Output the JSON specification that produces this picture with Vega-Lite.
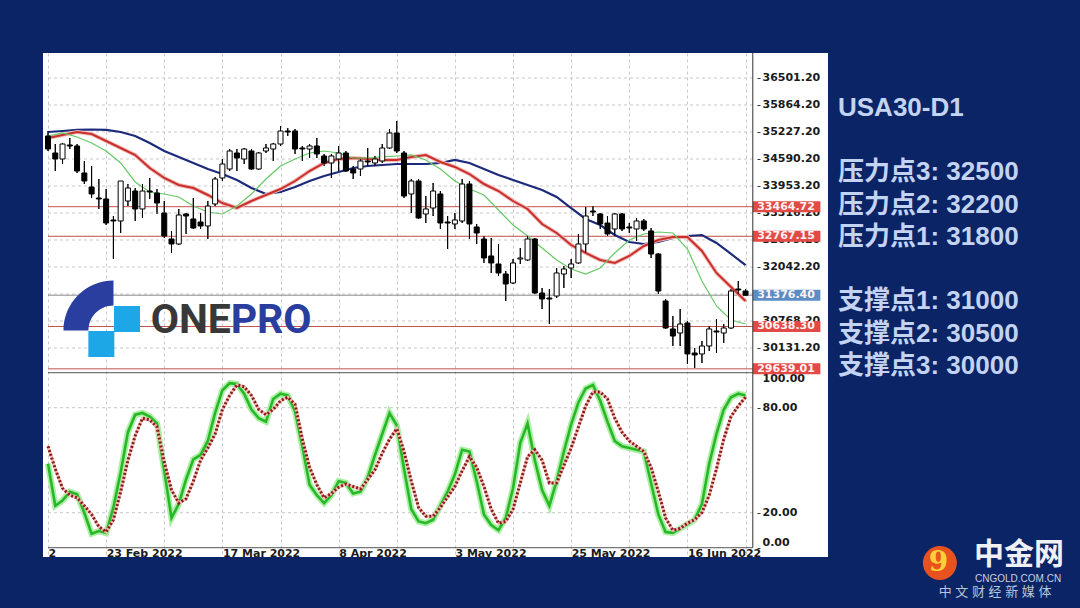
{
"$schema": "https://vega.github.io/schema/vega-lite/v6.json",
"background": "#0b2465",
"padding": {"left": 43, "top": 52, "right": 0, "bottom": 0},
"spacing": 10,
"bounds": "flush",
"config": {
  "view": {"stroke": null},
  "axis": {"labelFont": "DejaVu Sans", "labelFontWeight": "bold", "labelFontSize": 11, "labelColor": "#1a1a1a", "domain": false, "tickColor": "#333333", "tickSize": 3, "labelPadding": 2, "labelFlush": false, "labelOverlap": false, "labelBound": false}
},
"datasets": {
  "bars": [
    {"i":0,"o":35133,"h":35251,"l":34779,"c":34826},{"i":1,"o":34732,"h":34944,"l":34307,"c":34590},{"i":2,"o":34590,"h":34968,"l":34472,"c":34944},{"i":3,"o":34921,"h":35086,"l":34826,"c":34897},{"i":4,"o":34897,"h":34944,"l":34260,"c":34307},
    {"i":5,"o":34260,"h":34543,"l":34000,"c":34071},{"i":6,"o":33930,"h":34425,"l":33670,"c":33765},{"i":7,"o":33670,"h":34118,"l":33411,"c":33647},{"i":8,"o":33647,"h":33882,"l":33033,"c":33080},{"i":9,"o":33151,"h":33245,"l":32231,"c":33128},
    {"i":10,"o":33128,"h":34071,"l":32844,"c":34071},{"i":11,"o":33599,"h":34000,"l":33481,"c":33906},{"i":12,"o":33835,"h":33906,"l":33128,"c":33411},{"i":13,"o":33411,"h":34000,"l":33198,"c":33835},{"i":14,"o":33835,"h":34142,"l":33647,"c":33812},
    {"i":15,"o":33788,"h":33882,"l":33293,"c":33552},{"i":16,"o":33316,"h":33599,"l":32726,"c":32774},{"i":17,"o":32703,"h":32892,"l":32373,"c":32585},{"i":18,"o":32585,"h":33411,"l":32561,"c":33269},{"i":19,"o":33293,"h":33316,"l":32821,"c":33245},
    {"i":20,"o":33175,"h":33670,"l":32939,"c":32962},{"i":21,"o":33104,"h":33316,"l":32939,"c":33010},{"i":22,"o":33010,"h":33599,"l":32703,"c":33481},{"i":23,"o":33529,"h":34166,"l":33481,"c":34118},{"i":24,"o":34142,"h":34590,"l":34071,"c":34472},
    {"i":25,"o":34354,"h":34826,"l":34307,"c":34779},{"i":26,"o":34732,"h":34826,"l":34307,"c":34614},{"i":27,"o":34590,"h":34850,"l":34472,"c":34826},{"i":28,"o":34779,"h":34826,"l":34331,"c":34354},{"i":29,"o":34354,"h":34755,"l":34331,"c":34732},
    {"i":30,"o":34779,"h":34944,"l":34732,"c":34850},{"i":31,"o":34826,"h":34968,"l":34543,"c":34944},{"i":32,"o":34944,"h":35369,"l":34897,"c":35251},{"i":33,"o":35251,"h":35322,"l":35133,"c":35227},{"i":34,"o":35251,"h":35298,"l":34708,"c":34826},
    {"i":35,"o":34850,"h":34897,"l":34543,"c":34826},{"i":36,"o":34826,"h":34944,"l":34614,"c":34897},{"i":37,"o":34897,"h":35086,"l":34614,"c":34708},{"i":38,"o":34661,"h":34708,"l":34425,"c":34496},{"i":39,"o":34496,"h":34708,"l":34142,"c":34661},
    {"i":40,"o":34590,"h":34897,"l":34307,"c":34732},{"i":41,"o":34732,"h":34779,"l":34284,"c":34307},{"i":42,"o":34354,"h":34425,"l":34118,"c":34260},{"i":43,"o":34354,"h":34590,"l":34189,"c":34543},{"i":44,"o":34543,"h":34850,"l":34425,"c":34520},
    {"i":45,"o":34496,"h":34661,"l":34425,"c":34590},{"i":46,"o":34543,"h":34944,"l":34496,"c":34850},{"i":47,"o":34850,"h":35298,"l":34826,"c":35204},{"i":48,"o":35204,"h":35487,"l":34732,"c":34779},{"i":49,"o":34732,"h":34779,"l":33670,"c":33717},
    {"i":50,"o":33765,"h":34118,"l":33316,"c":34071},{"i":51,"o":34071,"h":34118,"l":33175,"c":33198},{"i":52,"o":33293,"h":33717,"l":33080,"c":33411},{"i":53,"o":33434,"h":34024,"l":33245,"c":33835},{"i":54,"o":33765,"h":33835,"l":32939,"c":33080},
    {"i":55,"o":33104,"h":33245,"l":32467,"c":33080},{"i":56,"o":33057,"h":33316,"l":32939,"c":33151},{"i":57,"o":33128,"h":34118,"l":33080,"c":34000},{"i":58,"o":34000,"h":34071,"l":32703,"c":33057},{"i":59,"o":32986,"h":33057,"l":32585,"c":32844},
    {"i":60,"o":32703,"h":32774,"l":32137,"c":32255},{"i":61,"o":32302,"h":32726,"l":31901,"c":32137},{"i":62,"o":32113,"h":32585,"l":31830,"c":31901},{"i":63,"o":31877,"h":31948,"l":31240,"c":31641},{"i":64,"o":31665,"h":32231,"l":31641,"c":32137},
    {"i":65,"o":32231,"h":32490,"l":32113,"c":32255},{"i":66,"o":32207,"h":32774,"l":32184,"c":32703},{"i":67,"o":32703,"h":32726,"l":31405,"c":31429},{"i":68,"o":31429,"h":31547,"l":31051,"c":31287},{"i":69,"o":31311,"h":31523,"l":30697,"c":31287},
    {"i":70,"o":31358,"h":32019,"l":31311,"c":31901},{"i":71,"o":31877,"h":32066,"l":31547,"c":31995},{"i":72,"o":32019,"h":32231,"l":31783,"c":32113},{"i":73,"o":32137,"h":32821,"l":32113,"c":32585},{"i":74,"o":32585,"h":33458,"l":32373,"c":33245},
    {"i":75,"o":33363,"h":33481,"l":33245,"c":33340},{"i":76,"o":33293,"h":33316,"l":32939,"c":33057},{"i":77,"o":33080,"h":33245,"l":32774,"c":32821},{"i":78,"o":32939,"h":33316,"l":32774,"c":33293},{"i":79,"o":33293,"h":33316,"l":32892,"c":32939},
    {"i":80,"o":32986,"h":33080,"l":32844,"c":32962},{"i":81,"o":32939,"h":33198,"l":32656,"c":33128},{"i":82,"o":33128,"h":33175,"l":32892,"c":32939},{"i":83,"o":32892,"h":32962,"l":32255,"c":32349},{"i":84,"o":32349,"h":32373,"l":31405,"c":31476},
    {"i":85,"o":31240,"h":31287,"l":30580,"c":30603},{"i":86,"o":30580,"h":30886,"l":30178,"c":30414},{"i":87,"o":30485,"h":31051,"l":30178,"c":30697},{"i":88,"o":30721,"h":30768,"l":29754,"c":29990},{"i":89,"o":30013,"h":30131,"l":29659,"c":29966},
    {"i":90,"o":29990,"h":30296,"l":29777,"c":30178},{"i":91,"o":30178,"h":30650,"l":30060,"c":30580},{"i":92,"o":30532,"h":30815,"l":30013,"c":30509},{"i":93,"o":30485,"h":30697,"l":30249,"c":30603},{"i":94,"o":30603,"h":31523,"l":30580,"c":31476},
    {"i":95,"o":31523,"h":31712,"l":31405,"c":31500},{"i":96,"o":31476,"h":31523,"l":31358,"c":31376.4}
  ],
  "ma": [
    {"i":0,"b":35227,"r":35086,"g":35133},{"i":2,"b":35251,"r":35157,"g":35204},{"i":4,"b":35275,"r":35227,"g":35109},{"i":6,"b":35286,"r":35180,"g":34968},{"i":8,"b":35275,"r":35015,"g":34779},
    {"i":10,"b":35227,"r":34850,"g":34496},{"i":12,"b":35133,"r":34685,"g":34048},{"i":14,"b":34968,"r":34378,"g":33812},{"i":16,"b":34779,"r":34142,"g":33765},{"i":18,"b":34638,"r":33977,"g":33694},
    {"i":20,"b":34496,"r":33906,"g":33481},{"i":22,"b":34354,"r":33741,"g":33340},{"i":24,"b":34236,"r":33552,"g":33293},{"i":26,"b":34095,"r":33434,"g":33481},{"i":28,"b":33906,"r":33599,"g":33765},
    {"i":30,"b":33765,"r":33741,"g":34118},{"i":32,"b":33812,"r":33882,"g":34425},{"i":34,"b":33930,"r":34071,"g":34590},{"i":36,"b":34071,"r":34307,"g":34732},{"i":38,"b":34189,"r":34496,"g":34779},
    {"i":40,"b":34284,"r":34590,"g":34732},{"i":42,"b":34378,"r":34614,"g":34614},{"i":44,"b":34425,"r":34590,"g":34614},{"i":46,"b":34449,"r":34567,"g":34638},{"i":48,"b":34472,"r":34567,"g":34661},
    {"i":50,"b":34472,"r":34638,"g":34685},{"i":52,"b":34472,"r":34685,"g":34567},{"i":54,"b":34496,"r":34520,"g":34354},{"i":56,"b":34567,"r":34402,"g":34071},{"i":58,"b":34496,"r":34236,"g":33882},
    {"i":60,"b":34354,"r":34000,"g":33741},{"i":62,"b":34213,"r":33835,"g":33387},{"i":64,"b":34095,"r":33599,"g":33033},{"i":66,"b":33977,"r":33411,"g":32774},{"i":68,"b":33859,"r":33057,"g":32490},
    {"i":70,"b":33694,"r":32844,"g":32207},{"i":72,"b":33434,"r":32561,"g":31995},{"i":74,"b":33175,"r":32373,"g":31877},{"i":76,"b":33033,"r":32207,"g":32019},{"i":78,"b":32797,"r":32137,"g":32373},
    {"i":80,"b":32632,"r":32302,"g":32679},{"i":82,"b":32585,"r":32538,"g":32821},{"i":84,"b":32632,"r":32679,"g":32868},{"i":86,"b":32726,"r":32750,"g":32844},{"i":88,"b":32774,"r":32750,"g":32467},
    {"i":90,"b":32797,"r":32420,"g":31712},{"i":92,"b":32609,"r":31901,"g":31122},{"i":94,"b":32349,"r":31570,"g":30792},{"i":96,"b":32089,"r":31240,"g":30697}
  ],
  "st": [
    {"i":0,"k":48,"d":58},{"i":1,"k":24,"d":45},{"i":2,"k":27,"d":34},{"i":3,"k":32,"d":30},{"i":4,"k":30.5,"d":28.5},{"i":5,"k":20,"d":24},{"i":6,"k":8,"d":19},{"i":7,"k":9.5,"d":12},{"i":8,"k":8.4,"d":9},{"i":9,"k":23,"d":16},
    {"i":10,"k":43,"d":32},{"i":11,"k":66,"d":50},{"i":12,"k":76,"d":64},{"i":13,"k":77,"d":74},{"i":14,"k":75,"d":73},{"i":15,"k":71,"d":69},{"i":16,"k":44,"d":49},{"i":17,"k":17,"d":33},{"i":18,"k":25,"d":25.5},{"i":19,"k":39,"d":28},
    {"i":20,"k":50.5,"d":38},{"i":21,"k":53,"d":50},{"i":22,"k":61,"d":57},{"i":23,"k":77,"d":65},{"i":24,"k":90,"d":79},{"i":25,"k":94,"d":87},{"i":26,"k":93.5,"d":93},{"i":27,"k":88,"d":92},{"i":28,"k":79,"d":87},{"i":29,"k":74,"d":79},
    {"i":30,"k":72,"d":76},{"i":31,"k":85,"d":79},{"i":32,"k":88,"d":84},{"i":33,"k":87,"d":86},{"i":34,"k":78,"d":82},{"i":35,"k":58,"d":62},{"i":36,"k":36,"d":46},{"i":37,"k":30,"d":36},{"i":38,"k":25.5,"d":28.5},{"i":39,"k":30,"d":31},
    {"i":40,"k":38,"d":34.5},{"i":41,"k":37,"d":36.4},{"i":42,"k":31,"d":35},{"i":43,"k":32,"d":33.5},{"i":44,"k":40,"d":39},{"i":45,"k":53,"d":44.5},{"i":46,"k":65,"d":54},{"i":47,"k":77,"d":62},{"i":48,"k":70,"d":68},{"i":49,"k":45,"d":55},
    {"i":50,"k":22,"d":38},{"i":51,"k":15,"d":23},{"i":52,"k":14,"d":18},{"i":53,"k":16,"d":18},{"i":54,"k":24,"d":23},{"i":55,"k":32,"d":29},{"i":56,"k":42,"d":35},{"i":57,"k":56,"d":44},{"i":58,"k":55,"d":52},{"i":59,"k":38,"d":46},
    {"i":60,"k":19,"d":35},{"i":61,"k":13,"d":22},{"i":62,"k":10,"d":14},{"i":63,"k":17,"d":15},{"i":64,"k":34,"d":22},{"i":65,"k":60,"d":37},{"i":66,"k":71,"d":52},{"i":67,"k":50,"d":56},{"i":68,"k":33,"d":50},{"i":69,"k":24,"d":37},
    {"i":70,"k":38,"d":37},{"i":71,"k":55,"d":47},{"i":72,"k":70.5,"d":57},{"i":73,"k":83,"d":69},{"i":74,"k":91,"d":81},{"i":75,"k":93,"d":89},{"i":76,"k":84,"d":89},{"i":77,"k":72,"d":85},{"i":78,"k":61,"d":74},{"i":79,"k":58,"d":66},
    {"i":80,"k":57,"d":61},{"i":81,"k":56,"d":58},{"i":82,"k":55,"d":55},{"i":83,"k":37,"d":46},{"i":84,"k":19,"d":32},{"i":85,"k":9,"d":17},{"i":86,"k":8.5,"d":10},{"i":87,"k":11,"d":11},{"i":88,"k":13.5,"d":14},{"i":89,"k":16,"d":16},
    {"i":90,"k":25,"d":20},{"i":91,"k":48,"d":30},{"i":92,"k":65,"d":45},{"i":93,"k":79,"d":62},{"i":94,"k":86,"d":75},{"i":95,"k":88,"d":81},{"i":96,"k":87,"d":86}
  ],
  "grid": [{"p":36501.2},{"p":35864.2},{"p":35227.2},{"p":34590.2},{"p":33953.2},{"p":33316.2},{"p":32679.2},{"p":32042.2},{"p":31405.2},{"p":30768.2},{"p":30131.2}],
  "lv": [{"p":33464.72,"kind":"r"},{"p":32767.15,"kind":"r"},{"p":31376.4,"kind":"b"},{"p":30638.3,"kind":"r"},{"p":29639.01,"kind":"r"}],
  "side": [{"line":0,"t":"USA30-D1"},{"line":2,"t":"压力点3: 32500"},{"line":3,"t":"压力点2: 32200"},{"line":4,"t":"压力点1: 31800"},{"line":6,"t":"支撑点1: 31000"},{"line":7,"t":"支撑点2: 30500"},{"line":8,"t":"支撑点3: 30000"}]
},
"hconcat": [
 {
  "width": 785, "height": 504,
  "view": {"fill": "#ffffff", "stroke": null},
  "resolve": {"scale": {"y": "independent"}},
  "layer": [
   {
    "layer": [
     {"data": {"name": "bars"}, "mark": {"type": "rule", "color": "#000000", "strokeWidth": 1, "clip": true},
      "encoding": {
        "x": {"field": "i", "type": "quantitative", "scale": {"domain": [0, 106.66], "nice": false, "zero": false},
              "axis": {"orient": "bottom", "offset": -10, "values": [0,8,16,24,32,40,48,56,64,72,80,88,96], "labelExpr": "datum.value==0?'2':datum.value==8?'23 Feb 2022':datum.value==24?'17 Mar 2022':datum.value==40?'8 Apr 2022':datum.value==56?'3 May 2022':datum.value==72?'25 May 2022':datum.value==88?'16 Jun 2022':''", "ticks": false, "grid": true, "gridColor": "#c8c8c8", "gridDash": [3,3], "gridWidth": 1, "labelAlign": "left", "labelBaseline": "top", "labelPadding": 0, "labelColor": "#1a1a1a", "title": null}},
        "y": {"field": "l", "type": "quantitative", "scale": {"domain": [25200.1, 37091], "nice": false, "zero": false},
              "axis": {"orient": "right", "offset": -71, "values": [36501.2,35864.2,35227.2,34590.2,33953.2,33316.2,32679.2,32042.2,30768.2,30131.2], "format": ".2f", "ticks": true, "grid": false, "labelColor": "#1a1a1a", "title": null}},
        "y2": {"field": "h"}
      }},
     {"data": {"name": "grid"}, "mark": {"type": "rule", "color": "#c8c8c8", "strokeWidth": 1, "strokeDash": [3,3]},
      "encoding": {
        "y": {"field": "p", "type": "quantitative"},
        "x": {"datum": 0, "type": "quantitative"},
        "x2": {"datum": 97.0}
      }},
     {"data": {"name": "lv"}, "mark": {"type": "rule", "strokeWidth": 1},
      "encoding": {
        "y": {"field": "p", "type": "quantitative"},
        "x": {"datum": 0, "type": "quantitative"},
        "x2": {"datum": 97.0},
        "color": {"condition": {"test": "datum.kind=='b'", "value": "#8c8c8c"}, "value": "#c0504d"}
      }},
     {"data": {"name": "ma"}, "mark": {"type": "line", "color": "#1b2a7a", "strokeWidth": 2.2, "clip": true},
      "encoding": {"x": {"field": "i", "type": "quantitative"}, "y": {"field": "b", "type": "quantitative"}}},
     {"data": {"name": "ma"}, "mark": {"type": "line", "color": "#f3b9b6", "strokeWidth": 4, "clip": true},
      "encoding": {"x": {"field": "i", "type": "quantitative"}, "y": {"field": "r", "type": "quantitative"}}},
     {"data": {"name": "ma"}, "mark": {"type": "line", "color": "#c8302c", "strokeWidth": 2, "clip": true},
      "encoding": {"x": {"field": "i", "type": "quantitative"}, "y": {"field": "r", "type": "quantitative"}}},
     {"data": {"name": "ma"}, "mark": {"type": "line", "color": "#66c866", "strokeWidth": 1.2, "clip": true},
      "encoding": {"x": {"field": "i", "type": "quantitative"}, "y": {"field": "g", "type": "quantitative"}}},
     {"data": {"name": "bars"}, "mark": {"type": "rule", "color": "#000000", "strokeWidth": 1, "clip": true},
      "encoding": {"x": {"field": "i", "type": "quantitative"}, "y": {"field": "l", "type": "quantitative"}, "y2": {"field": "h"}}},
     {"data": {"name": "bars"}, "mark": {"type": "bar", "width": 5, "stroke": "#000000", "strokeWidth": 1, "clip": true},
      "encoding": {"x": {"field": "i", "type": "quantitative"}, "y": {"field": "o", "type": "quantitative"}, "y2": {"field": "c"},
        "fill": {"condition": {"test": "datum.c >= datum.o", "value": "#ffffff"}, "value": "#000000"}}},
     {"data": {"name": "lv"}, "mark": {"type": "rule", "strokeWidth": 11},
      "encoding": {
        "y": {"field": "p", "type": "quantitative"},
        "x": {"datum": 97.0, "type": "quantitative"},
        "x2": {"datum": 106.3},
        "color": {"condition": {"test": "datum.kind=='b'", "value": "#5b8ec4"}, "value": "#e24a45"}
      }},
     {"data": {"name": "lv"}, "mark": {"type": "text", "align": "left", "baseline": "middle", "font": "DejaVu Sans", "fontWeight": "bold", "fontSize": 11, "color": "#fff2f2"},
      "encoding": {
        "y": {"field": "p", "type": "quantitative"},
        "x": {"datum": 97.6, "type": "quantitative"},
        "text": {"field": "p", "type": "quantitative", "format": ".2f"}
      }},
     {"data": {"values": [{}]}, "mark": {"type": "point", "shape": "M -1 1 A 2 2 0 0 1 1 -1 L 1 0 A 1 1 0 0 0 0 1 Z", "size": 2500, "filled": true, "fill": "#2a3ea0", "opacity": 1, "strokeWidth": 0},
      "encoding": {"x": {"datum": 5.57, "type": "quantitative"}, "y": {"datum": 31134, "type": "quantitative"}}},
     {"data": {"values": [{}]}, "mark": {"type": "point", "shape": "square", "size": 676, "filled": true, "fill": "#1ea7e6", "opacity": 1, "strokeWidth": 0},
      "encoding": {"x": {"datum": 10.87, "type": "quantitative"}, "y": {"datum": 30815, "type": "quantitative"}}},
     {"data": {"values": [{}]}, "mark": {"type": "point", "shape": "square", "size": 676, "filled": true, "fill": "#1ea7e6", "opacity": 1, "strokeWidth": 0},
      "encoding": {"x": {"datum": 7.34, "type": "quantitative"}, "y": {"datum": 30225, "type": "quantitative"}}},
     {"data": {"values": [{}]}, "mark": {"type": "text", "text": "ONE", "align": "left", "baseline": "alphabetic", "font": "Roboto", "fontWeight": "bold", "fontSize": 41, "color": "#383838"},
      "encoding": {"x": {"datum": 14.13, "type": "quantitative"}, "y": {"datum": 30485, "type": "quantitative"}}},
     {"data": {"values": [{}]}, "mark": {"type": "text", "text": "PRO", "align": "left", "baseline": "alphabetic", "font": "Roboto", "fontWeight": "bold", "fontSize": 41, "color": "#2a3ea0"},
      "encoding": {"x": {"datum": 25.14, "type": "quantitative"}, "y": {"datum": 30485, "type": "quantitative"}}}
    ]
   },
   {
    "layer": [
     {"data": {"name": "st"}, "mark": {"type": "line", "color": "#a9efa2", "strokeWidth": 6, "opacity": 0.85, "clip": true},
      "encoding": {"x": {"field": "i", "type": "quantitative"},
        "y": {"field": "k", "type": "quantitative", "scale": {"domain": [-5.31, 282.7], "nice": false, "zero": false},
              "axis": {"orient": "right", "offset": -71, "values": [0,20,80,100], "format": ".2f", "ticks": true, "grid": false, "labelColor": "#1a1a1a", "title": null,
                       "labelBaseline": {"condition": [{"test": "datum.value==100", "value": "top"}, {"test": "datum.value==0", "value": "bottom"}], "value": "middle"}}}}},
     {"data": {"values": [{"v":20},{"v":80}]}, "mark": {"type": "rule", "color": "#c8c8c8", "strokeWidth": 1, "strokeDash": [3,3]},
      "encoding": {
        "y": {"field": "v", "type": "quantitative"},
        "x": {"datum": 0, "type": "quantitative"},
        "x2": {"datum": 97.0}
      }},
     {"data": {"values": [{"v":0},{"v":100}]}, "mark": {"type": "rule", "color": "#555555", "strokeWidth": 1},
      "encoding": {
        "y": {"field": "v", "type": "quantitative"},
        "x": {"datum": 0, "type": "quantitative"},
        "x2": {"datum": 97.0}
      }},
     {"data": {"values": [{}]}, "mark": {"type": "rule", "color": "#333333", "strokeWidth": 1},
      "encoding": {
        "x": {"datum": 97.0, "type": "quantitative"},
        "y": {"datum": 0, "type": "quantitative"},
        "y2": {"datum": 282.7}
      }},
     {"data": {"name": "st"}, "mark": {"type": "line", "color": "#a9efa2", "strokeWidth": 6, "opacity": 0.85, "clip": true},
      "encoding": {"x": {"field": "i", "type": "quantitative"}, "y": {"field": "k", "type": "quantitative"}}},
     {"data": {"name": "st"}, "mark": {"type": "line", "color": "#27b827", "strokeWidth": 2.6, "clip": true},
      "encoding": {"x": {"field": "i", "type": "quantitative"}, "y": {"field": "k", "type": "quantitative"}}},
     {"data": {"name": "st"}, "mark": {"type": "line", "color": "#f2bcb4", "strokeWidth": 3, "clip": true},
      "encoding": {"x": {"field": "i", "type": "quantitative"}, "y": {"field": "d", "type": "quantitative"}}},
     {"data": {"name": "st"}, "mark": {"type": "line", "color": "#8b1a1a", "strokeWidth": 3, "strokeDash": [2,2], "clip": true},
      "encoding": {"x": {"field": "i", "type": "quantitative"}, "y": {"field": "d", "type": "quantitative"}}}
    ]
   }
  ]
 },
 {
  "width": 242, "height": 556,
  "view": {"fill": "transparent", "stroke": null},
  "layer": [
   {"data": {"name": "side"}, "mark": {"type": "text", "align": "left", "baseline": "middle", "font": "Liberation Sans, Noto Sans CJK SC", "fontSize": 26, "fontWeight": "bold", "color": "#c3d3f2"},
    "encoding": {
      "x": {"datum": 0, "type": "quantitative", "scale": {"domain": [0, 1], "nice": false, "zero": false}, "axis": null},
      "y": {"field": "line", "type": "quantitative", "scale": {"domain": [-1.705, 15.535], "reverse": true, "nice": false, "zero": false}, "axis": null},
      "text": {"field": "t"}
    }},
   {"data": {"values": [{}]}, "mark": {"type": "point", "shape": "circle", "size": 1156, "filled": true, "fill": "#e8521e", "opacity": 1, "strokeWidth": 0},
    "encoding": {"x": {"datum": 0.421, "type": "quantitative", "axis": null}, "y": {"datum": 14.11, "type": "quantitative", "axis": null}}},
   {"data": {"values": [{}]}, "mark": {"type": "text", "text": "9", "align": "center", "baseline": "middle", "font": "DejaVu Serif", "fontWeight": "bold", "fontSize": 28, "color": "#ffcf3a"},
    "encoding": {"x": {"datum": 0.415, "type": "quantitative", "axis": null}, "y": {"datum": 14.11, "type": "quantitative", "axis": null}}},
   {"data": {"values": [{}]}, "mark": {"type": "text", "text": "中金网", "align": "center", "baseline": "middle", "font": "Noto Sans CJK SC", "fontWeight": "bold", "fontSize": 30, "color": "#eef0f6"},
    "encoding": {"x": {"datum": 0.748, "type": "quantitative", "axis": null}, "y": {"datum": 13.86, "type": "quantitative", "axis": null}}},
   {"data": {"values": [{}]}, "mark": {"type": "text", "text": "CNGOLD.COM.CN", "align": "center", "baseline": "middle", "font": "Liberation Sans", "fontSize": 10, "color": "#c8d0e0"},
    "encoding": {"x": {"datum": 0.744, "type": "quantitative", "axis": null}, "y": {"datum": 14.59, "type": "quantitative", "axis": null}}},
   {"data": {"values": [{}]}, "mark": {"type": "text", "text": "中  文  财  经  新  媒  体", "align": "center", "baseline": "middle", "font": "Liberation Sans, Noto Sans CJK SC", "fontSize": 13, "color": "#b8c4d8"},
    "encoding": {"x": {"datum": 0.649, "type": "quantitative", "axis": null}, "y": {"datum": 15.01, "type": "quantitative", "axis": null}}}
  ]
 }
]
}
